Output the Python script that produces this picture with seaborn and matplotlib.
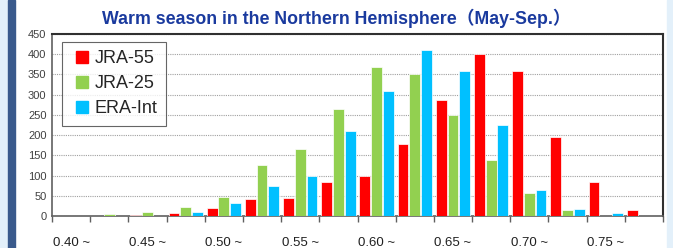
import matplotlib
matplotlib.use("Agg")
import matplotlib.pyplot as plt
from matplotlib.lines import Line2D
from matplotlib.patches import Rectangle
import pandas as pd
import seaborn as sns

# ── Data ──────────────────────────────────────────────────────────────────────
bins = ["0.400", "0.425", "0.450", "0.475", "0.500", "0.525", "0.550", "0.575",
        "0.600", "0.625", "0.650", "0.675", "0.700", "0.725", "0.750", "0.775"]
tick_labels = ["0.40 ~", "", "0.45 ~", "", "0.50 ~", "", "0.55 ~", "",
               "0.60 ~", "", "0.65 ~", "", "0.70 ~", "", "0.75 ~", ""]
jra55 = [0, 0, 3, 8, 20, 42, 45, 85, 100, 178, 288, 400, 358, 196, 85, 15]
jra25 = [0, 5, 10, 23, 48, 125, 165, 265, 368, 350, 250, 138, 58, 15, 0, 0]
era_int = [0, 0, 0, 10, 33, 75, 100, 210, 308, 410, 358, 225, 64, 18, 7, 0]
series = ["JRA-55", "JRA-25", "ERA-Int"]
colours = ["#ff0000", "#92d050", "#00c0ff"]

df = pd.concat([
    pd.DataFrame({"bin": bins, "count": vals, "set": name})
    for name, vals in zip(series, [jra55, jra25, era_int])
], ignore_index=True)

sns.set_theme(style="white")
plt.rcParams["font.family"] = ["Liberation Sans", "Noto Sans CJK JP"]

fig = plt.figure(figsize=(6.73, 2.48), dpi=100, facecolor="white")
ax = fig.add_axes([52 / 673, 1 - 216 / 248, (663 - 52) / 673, (216 - 34) / 248])

# background strips
fig.patches.append(Rectangle((0, 0), 8 / 673, 1, transform=fig.transFigure,
                             color="#e3f0fa", zorder=-1))
fig.patches.append(Rectangle((8 / 673, 0), 7 / 673, 1, transform=fig.transFigure,
                             color="#3a5a8c", zorder=-1))
fig.patches.append(Rectangle((667 / 673, 0), 6 / 673, 1, transform=fig.transFigure,
                             color="#e3f0fa", zorder=-1))

sns.barplot(data=df, x="bin", y="count", hue="set", palette=colours,
            width=0.92, gap=0.08, edgecolor="white", linewidth=0.5, ax=ax,
            saturation=1, zorder=3, legend=False)

ax.set_ylim(0, 450)
ax.set_xlim(-0.5, len(bins) - 0.5)
ax.set_yticks(range(0, 451, 50))
ax.tick_params(axis="y", labelsize=8, colors="#404040", length=0, pad=4)
ax.yaxis.grid(True, linestyle=(0, (1, 1)), color="#a0a0a0", linewidth=0.8, zorder=0)

ax.set_xticks(range(len(bins)))
ax.set_xticklabels(tick_labels, fontsize=9.5, color="#202020")
ax.tick_params(axis="x", length=0, pad=15)
ax.set_xticks([i - 0.5 for i in range(len(bins) + 1)], minor=True)
ax.tick_params(axis="x", which="minor", length=4, direction="out", color="#606060",
               bottom=True)
ax.set_xlabel("")
ax.set_ylabel("")

for side in ["top", "right"]:
    ax.spines[side].set_color("#303030")
    ax.spines[side].set_linewidth(1.5)
for side in ["left", "bottom"]:
    ax.spines[side].set_color("#606060")
    ax.spines[side].set_linewidth(1.2)

handles = [Line2D([], [], linestyle="none", marker="s", markersize=8.5,
                  markerfacecolor=c, markeredgecolor=c) for c in colours]
leg = ax.legend(handles, series, loc="upper left", bbox_to_anchor=(10 / 611, 1 - 8 / 182),
                fontsize=13, frameon=True, fancybox=False, edgecolor="#404040",
                handlelength=1.3, handletextpad=0.05, borderpad=0.45,
                labelspacing=0.45, borderaxespad=0)
leg.get_frame().set_linewidth(0.8)

fig.text(0.5, 1 - 18 / 248, "Warm season in the Northern Hemisphere（May-Sep.）",
         ha="center", va="center", fontsize=12.8, fontweight="bold", color="#1a3a9e")

fig.savefig("out.png", dpi=100, facecolor=fig.get_facecolor())
